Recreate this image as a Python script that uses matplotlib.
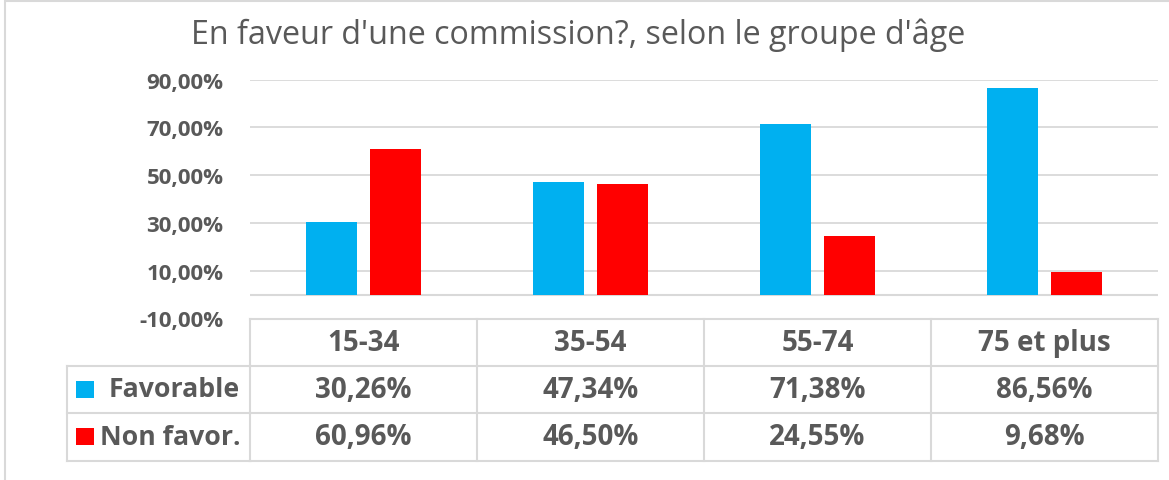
import matplotlib
matplotlib.use("Agg")
import matplotlib.pyplot as plt
from matplotlib.lines import Line2D
from matplotlib.patches import Rectangle
from matplotlib.transforms import blended_transform_factory

# ---- data ----
categories = ["15-34", "35-54", "55-74", "75 et plus"]
series_names = ["Favorable", "Non favor."]
favorable = [30.26, 47.34, 71.38, 86.56]
non_favorable = [60.96, 46.50, 24.55, 9.68]
y_ticks = [-10, 10, 30, 50, 70, 90]
y_tick_labels = ["-10,00%", "10,00%", "30,00%", "50,00%", "70,00%", "90,00%"]
title = "En faveur d'une commission?, selon le groupe d'âge"

BLUE = "#00B0F0"
RED = "#FF0000"
GRID = "#D9D9D9"
TXT = "#595959"
FONT = "Open Sans"

W, H = 1169, 481
fig = plt.figure(figsize=(W / 100, H / 100), dpi=100)
fig.patch.set_facecolor("white")

def fx(px):
    return px / W

def fy(py):
    return 1 - py / H

# outer chart border (partially cropped)
fig.add_artist(Rectangle((fx(5), fy(520)), fx(1180) - fx(5), fy(2) - fy(520),
                         transform=fig.transFigure, fill=False,
                         edgecolor=GRID, lw=1.5))

# plot area
left_px, right_px, top_px, bot_px = 250, 1158, 80.7, 319.5
ax = fig.add_axes([fx(left_px), fy(bot_px), fx(right_px) - fx(left_px),
                   fy(top_px) - fy(bot_px)])
ax.set_xlim(-0.5, len(categories) - 0.5)
ax.set_ylim(-10, 90)
for s in ax.spines.values():
    s.set_visible(False)
ax.set_yticks(y_ticks)
ax.set_yticklabels(y_tick_labels, fontfamily=FONT, fontweight="bold",
                   fontsize=16, color=TXT)
ax.tick_params(axis="y", length=0, pad=19)
ax.set_xticks([])
ax.grid(axis="y", color=GRID, lw=1.3)
ax.set_axisbelow(True)
ax.axhline(0, color=GRID, lw=1.5, zorder=1)

x = list(range(len(categories)))
bw = 0.224
off = 0.142
ax.bar([i - off for i in x], favorable, width=bw, color=BLUE, zorder=3)
ax.bar([i + off for i in x], non_favorable, width=bw, color=RED, zorder=3)

# title
fig.text(fx(578.5), fy(35), title, ha="center", va="center",
         fontfamily=FONT, fontsize=23.2, color=TXT)

# ---- data table ----
rows_y = [319.5, 366.7, 414.0, 461.7]
leg_left = 66.7
trans = blended_transform_factory(ax.transData, fig.transFigure)

def hline(y_px, with_legend):
    fig.add_artist(Line2D([-0.5, len(categories) - 0.5], [fy(y_px)] * 2,
                          transform=trans, color=GRID, lw=1.5, clip_on=False))
    if with_legend:
        fig.add_artist(Line2D([fx(leg_left), fx(left_px)], [fy(y_px)] * 2,
                              transform=fig.transFigure, color=GRID, lw=1.5))

hline(rows_y[0], False)
for yv in rows_y[1:]:
    hline(yv, True)
for b in [i - 0.5 for i in range(len(categories) + 1)]:
    fig.add_artist(Line2D([b, b], [fy(rows_y[0]), fy(rows_y[-1])],
                          transform=trans, color=GRID, lw=1.5, clip_on=False))
fig.add_artist(Line2D([fx(leg_left)] * 2, [fy(rows_y[1]), fy(rows_y[-1])],
                      transform=fig.transFigure, color=GRID, lw=1.5))

def fmt(v):
    return f"{v:.2f}".replace(".", ",") + "%"

tkw = dict(fontfamily=FONT, fontweight="bold", fontsize=20, color=TXT,
           ha="center", va="center")
for i, c in enumerate(categories):
    fig.text(i, fy((rows_y[0] + rows_y[1]) / 2), c, transform=trans, **tkw)
    fig.text(i, fy((rows_y[1] + rows_y[2]) / 2), fmt(favorable[i]), transform=trans, **tkw)
    fig.text(i, fy((rows_y[2] + rows_y[3]) / 2), fmt(non_favorable[i]), transform=trans, **tkw)

# legend keys in table
for r, (name, col) in enumerate(zip(series_names, [BLUE, RED])):
    yc = (rows_y[r + 1] + rows_y[r + 2]) / 2
    fig.add_artist(Rectangle((fx(76), fy(yc + 8.5)), fx(94) - fx(76), fy(yc - 8.5) - fy(yc + 8.5),
                             transform=fig.transFigure, color=col, lw=0))
    fig.text(fx(240), fy(yc), name, ha="right", va="center",
             fontfamily=FONT, fontweight="bold", fontsize=19.2, color=TXT)

fig.savefig("out.png", dpi=100, facecolor="white")
